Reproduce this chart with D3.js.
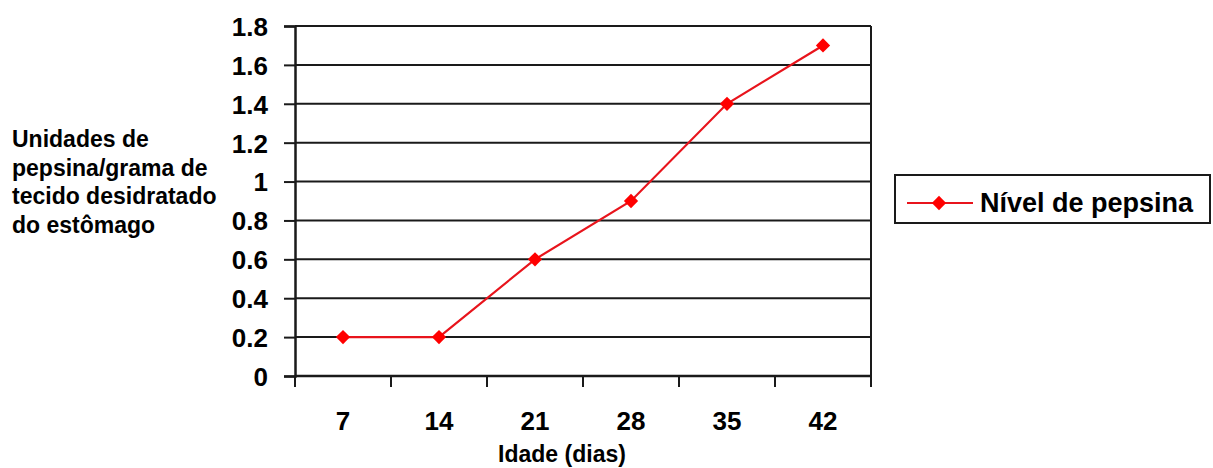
<html>
<head>
<script src="https://d3js.org/d3.v7.min.js"></script>
<style>
  body { margin: 0; background: #fff; }
  text { font-family: "Liberation Sans", Arial, sans-serif; font-weight: bold; fill: #000; }
</style>
</head>
<body>
<svg id="chart" width="1213" height="468"></svg>
<script>
const days = ['7', '14', '21', '28', '35', '42']
const pepsina = [0.2, 0.2, 0.6, 0.9, 1.4, 1.7]
const yTicks = [0, 0.2, 0.4, 0.6, 0.8, 1, 1.2, 1.4, 1.6, 1.8]
const yTitle = ['Unidades de', 'pepsina/grama de', 'tecido desidratado', 'do estômago']
const xTitle = 'Idade (dias)'
const seriesName = 'Nível de pepsina'

const svg = d3.select('svg#chart')
const margins = {top: 26, left: 295, bottom: 92, right: 342}
const width = +svg.attr('width')
const height = +svg.attr('height')
const chartWidth = width - margins.left - margins.right
const chartHeight = height - margins.top - margins.bottom

const xScale = d3.scaleBand().domain(days).range([0, chartWidth]).padding(0)
const yScale = d3.scaleLinear().domain([0, 1.8]).range([chartHeight, 0])

const chart = svg.append('g')
  .attr('transform', `translate(${margins.left}, ${margins.top})`)

// gridlines
chart.append('g')
  .selectAll('line').data(yTicks)
  .join('line')
  .attr('x1', 0).attr('x2', chartWidth)
  .attr('y1', d => yScale(d)).attr('y2', d => yScale(d))
  .attr('stroke', '#1a1a1a').attr('stroke-width', 2)

// right border
chart.append('line')
  .attr('x1', chartWidth).attr('x2', chartWidth)
  .attr('y1', 0).attr('y2', chartHeight)
  .attr('stroke', '#1a1a1a').attr('stroke-width', 2)

// y axis
const yAxis = chart.append('g')
  .call(d3.axisLeft(yScale).tickValues(yTicks).tickSize(11).tickPadding(16).tickFormat(d => String(d)))
yAxis.select('.domain').attr('stroke', '#1a1a1a').attr('stroke-width', 2.5)
yAxis.selectAll('.tick line').attr('stroke', '#1a1a1a').attr('stroke-width', 2)
yAxis.selectAll('.tick text').attr('font-size', 26).attr('font-family', null).attr('dy', '0.36em')

// x axis: ticks at band boundaries
const xAxisG = chart.append('g').attr('transform', `translate(0, ${chartHeight})`)
xAxisG.append('line')
  .attr('x1', 0).attr('x2', chartWidth)
  .attr('stroke', '#1a1a1a').attr('stroke-width', 2.5)
const bounds = days.map(d => xScale(d)).concat([chartWidth])
xAxisG.selectAll('line.tk').data(bounds)
  .join('line').attr('class', 'tk')
  .attr('x1', d => d).attr('x2', d => d)
  .attr('y1', 0).attr('y2', 11)
  .attr('stroke', '#1a1a1a').attr('stroke-width', 2)
xAxisG.selectAll('text').data(days)
  .join('text')
  .attr('x', d => xScale(d) + xScale.bandwidth() / 2)
  .attr('y', 54)
  .attr('text-anchor', 'middle')
  .attr('font-size', 26)
  .text(d => d)

// x title
svg.append('text')
  .attr('x', 562).attr('y', 462)
  .attr('text-anchor', 'middle')
  .attr('font-size', 23)
  .text(xTitle)

// y title
svg.append('g').selectAll('text').data(yTitle)
  .join('text')
  .attr('x', 12)
  .attr('y', (d, i) => 147 + i * 28.5)
  .attr('font-size', 23)
  .text(d => d)

// series line
const line = d3.line()
  .x((d, i) => xScale(days[i]) + xScale.bandwidth() / 2)
  .y(d => yScale(d))

chart.append('path')
  .datum(pepsina)
  .attr('d', line)
  .attr('fill', 'none')
  .attr('stroke', '#e8141c')
  .attr('stroke-width', 2.2)

const diamond = d3.symbol().type(d3.symbolDiamond2).size(130)
chart.selectAll('path.pt').data(pepsina)
  .join('path').attr('class', 'pt')
  .attr('d', diamond)
  .attr('transform', (d, i) => `translate(${xScale(days[i]) + xScale.bandwidth() / 2}, ${yScale(d)})`)
  .attr('fill', '#ff0000')

// legend
const legend = svg.append('g').attr('transform', 'translate(895, 175)')
legend.append('rect')
  .attr('width', 315).attr('height', 48)
  .attr('fill', '#fff').attr('stroke', '#1a1a1a').attr('stroke-width', 2)
legend.append('line')
  .attr('x1', 12).attr('x2', 78).attr('y1', 28).attr('y2', 28)
  .attr('stroke', '#e8141c').attr('stroke-width', 2.2)
legend.append('path')
  .attr('d', diamond)
  .attr('transform', 'translate(44, 28)')
  .attr('fill', '#ff0000')
legend.append('text')
  .attr('x', 85).attr('y', 37)
  .attr('font-size', 27)
  .text(seriesName)
</script>
</body>
</html>
